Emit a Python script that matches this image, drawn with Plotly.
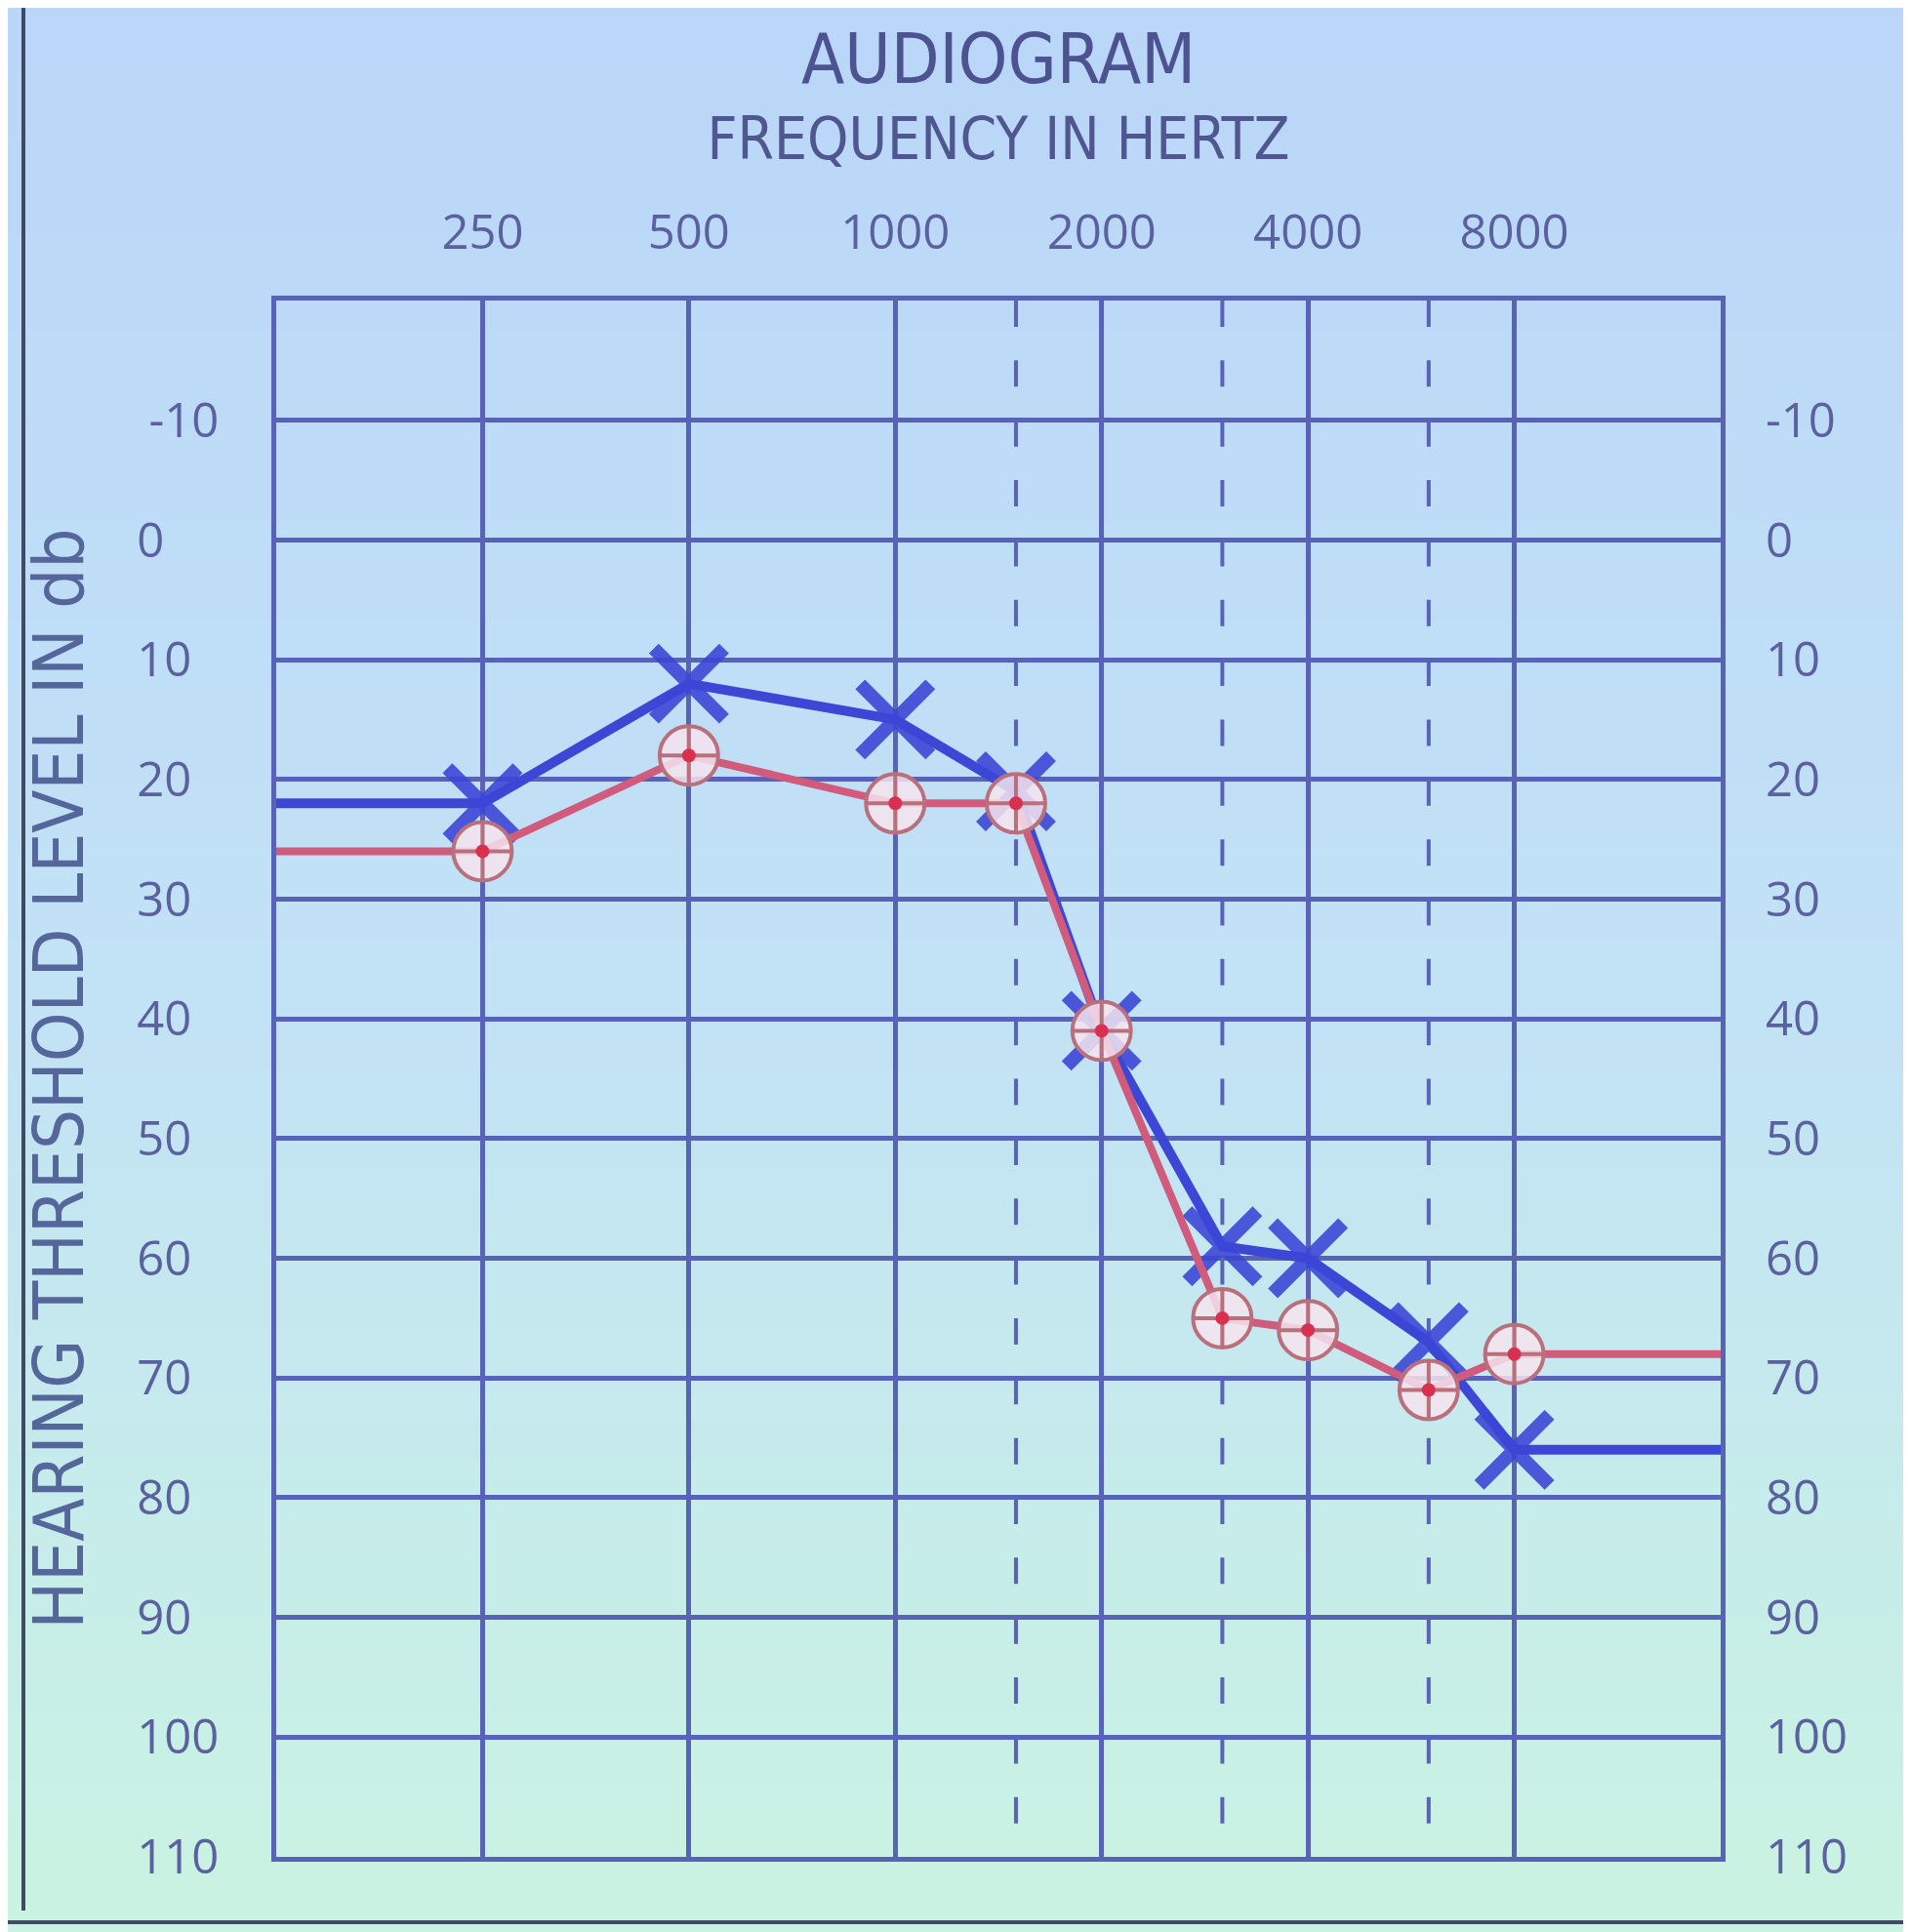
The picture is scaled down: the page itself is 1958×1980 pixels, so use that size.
import math
import plotly.graph_objects as go

# thresholds (dB HL)
freqs = [250, 500, 1000, 1500, 2000, 3000, 4000, 6000, 8000]
blue_x_db = [22, 12, 15, 21, 41, 59, 60, 67, 76]
red_o_db = [26, 18, 22, 22, 41, 65, 66, 71, 68]

freq_ticks = [250, 500, 1000, 2000, 4000, 8000]
freq_labels = ["250", "500", "1000", "2000", "4000", "8000"]
half_octaves = [1500, 3000, 6000]   # dashed verticals
db_ticks = [-10, 0, 10, 20, 30, 40, 50, 60, 70, 80, 90, 100, 110]
db_labels = ["-10", "0", "10", "20", "30", "40", "50", "60", "70", "80", "90", "100", "110"]

x_edges_hz = [125, 16000]
y_range_db = [110, -20]

W, H = 1958, 1980
L, R, T, B = 275, 203, 300, 85

GRID = "#5862b6"
BLUE = "#3c47d6"
RED = "#d15b7c"
RING = "#b9707c"
TEXT = "#5b609e"

# lines run flat out to the chart edges
line_x = [x_edges_hz[0]] + freqs + [x_edges_hz[1]]
blue_line = [blue_x_db[0]] + blue_x_db + [blue_x_db[-1]]
red_line = [red_o_db[0]] + red_o_db + [red_o_db[-1]]

fig = go.Figure()

fig.add_trace(go.Scatter(x=line_x, y=red_line, mode="lines", yaxis="y2",
                         line=dict(color=RED, width=8), hoverinfo="skip"))
fig.add_trace(go.Scatter(x=freqs, y=red_o_db, mode="markers", yaxis="y2",
                         marker=dict(symbol="circle-cross", size=60, color="rgba(245,228,238,0.85)",
                                     line=dict(color=RING, width=4)),
                         name="O"))
fig.add_trace(go.Scatter(x=freqs, y=red_o_db, mode="markers", yaxis="y2",
                         marker=dict(symbol="circle", size=14, color="#d9304f"),
                         hoverinfo="skip"))
fig.add_trace(go.Scatter(x=line_x, y=blue_line, mode="lines",
                         line=dict(color=BLUE, width=10), hoverinfo="skip"))
fig.add_trace(go.Scatter(x=freqs, y=blue_x_db, mode="markers",
                         marker=dict(symbol="x-thin", size=72,
                                     line=dict(color=BLUE, width=14)),
                         opacity=0.9, name="X"))

# background gradient, light blue screen fading to mint at the bottom
top_c = (186, 214, 248)
mid_c = (194, 226, 246)
bot_c = (202, 243, 226)
n_bands = 60
pw, ph = W - L - R, H - T - B
for i in range(n_bands):
    f = i / (n_bands - 1)
    if f < 0.5:
        a, b, g = top_c, mid_c, f / 0.5
    else:
        a, b, g = mid_c, bot_c, (f - 0.5) / 0.5
    col = "rgb(%d,%d,%d)" % tuple(round(a[k] + (b[k] - a[k]) * g) for k in range(3))
    y0 = i * H / n_bands
    y1 = (i + 1) * H / n_bands + 1
    fig.add_shape(type="rect", xref="paper", yref="paper",
                  x0=-L / pw, x1=(W - L) / pw,
                  y0=(H - B - y1) / ph, y1=(H - B - y0) / ph,
                  line=dict(width=0), fillcolor=col, layer="below")

# two dashes per 10 dB cell, starting at the top edge
half_cell = ph / len(db_ticks) / 2
for hz in half_octaves:
    fig.add_shape(type="line", xref="x", yref="paper", x0=hz, x1=hz, y0=1, y1=0,
                  line=dict(color=GRID, width=4,
                            dash="%.1fpx,%.2fpx" % (27, half_cell - 27)),
                  layer="below")

# dark screen frame caught by the photo
fig.add_shape(type="line", xref="paper", yref="paper",
              x0=-(L - 16) / pw, x1=-(L - 16) / pw, y0=(H - B - 1950) / ph, y1=(H - B) / ph + 0.2,
              line=dict(color="#3d4c63", width=4))
fig.add_shape(type="line", xref="paper", yref="paper",
              x0=-L / pw, x1=(W - L) / pw, y0=(H - B - 1962) / ph, y1=(H - B - 1962) / ph,
              line=dict(color="#3d4c63", width=4))

# pad left labels so they read left-aligned like the original
width = max(len(s) for s in db_labels)
left_text = [s + "\u2007" * (width - len(s)) for s in db_labels]

tick_font = dict(family="Open Sans, DejaVu Sans, sans-serif", size=49, color=TEXT)
title_font = "DejaVu Sans Condensed, Open Sans, sans-serif"

fig.update_layout(
    width=W, height=H,
    margin=dict(l=L, r=R, t=T, b=B),
    paper_bgcolor="rgb(194,226,246)",
    plot_bgcolor="rgba(0,0,0,0)",
    showlegend=False,
    title=dict(text="AUDIOGRAM", x=0.5, xref="paper", y=1 - 52 / H, yref="container",
               xanchor="center", yanchor="middle",
               font=dict(family=title_font, size=72, color="#4d5290")),
    xaxis=dict(
        type="log", side="top",
        range=[math.log10(x_edges_hz[0]), math.log10(x_edges_hz[1])],
        tickvals=freq_ticks, ticktext=freq_labels, ticks="",
        ticklabelstandoff=28, tickfont=tick_font,
        showgrid=True, gridcolor=GRID, gridwidth=5,
        showline=True, mirror=True, linecolor=GRID, linewidth=5,
        title=dict(text="FREQUENCY IN HERTZ", standoff=22,
                   font=dict(family=title_font, size=60, color="#50568f")),
    ),
    yaxis=dict(
        range=y_range_db, tickvals=db_ticks, ticktext=left_text, ticks="",
        ticklabelstandoff=44, tickfont=tick_font,
        showgrid=True, gridcolor=GRID, gridwidth=5, zeroline=False,
        showline=True, mirror=True, linecolor=GRID, linewidth=5,
        title=dict(text="HEARING THRESHOLD LEVEL IN db", standoff=32,
                   font=dict(family=title_font, size=72, color="#55679a")),
    ),
    yaxis2=dict(
        overlaying="y", side="right", range=y_range_db,
        tickvals=db_ticks, ticktext=db_labels, ticks="",
        ticklabelstandoff=45, tickfont=tick_font,
        showgrid=False, zeroline=False, showline=False,
    ),
)

fig.write_html("out.html")
